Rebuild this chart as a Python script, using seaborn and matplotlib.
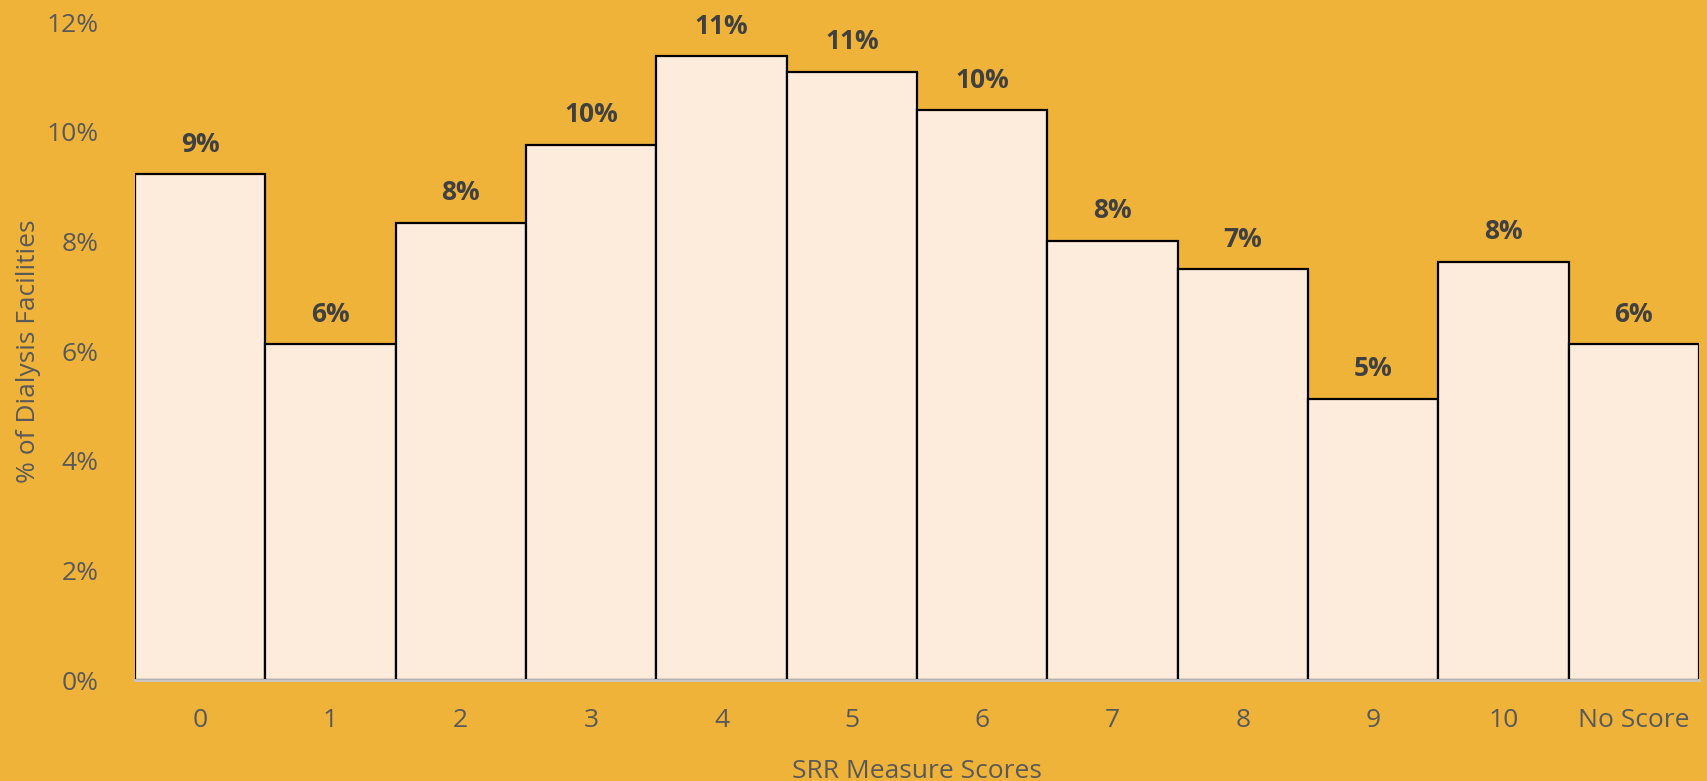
import matplotlib
matplotlib.use("Agg")
import matplotlib.pyplot as plt
from matplotlib.ticker import FuncFormatter
import seaborn as sns
import pandas as pd

scores = ["0", "1", "2", "3", "4", "5", "6", "7", "8", "9", "10", "No Score"]
pct_facilities = [9.22, 6.12, 8.34, 9.76, 11.38, 11.09, 10.39, 8.01, 7.49, 5.13, 7.63, 6.12]
y_ticks = [0, 2, 4, 6, 8, 10, 12]

bg = "#F0B33A"
bar_fill = "#FDEBDC"
tick_grey = "#595959"
label_dark = "#404040"

sns.set_theme(style="white")
plt.rcParams["font.family"] = ["Open Sans", "DejaVu Sans"]

df = pd.DataFrame({"score": scores, "pct": pct_facilities})

fig = plt.figure(figsize=(17.08, 7.81), dpi=100, facecolor=bg)
ax = fig.add_axes([0.079, 0.1293, 0.9157, 0.8425])
ax.set_facecolor(bg)

sns.barplot(data=df, x="score", y="pct", order=scores, color=bar_fill,
            width=1.0, edgecolor="black", linewidth=1.6, saturation=1, ax=ax)

ax.set_ylim(0, 12)
ax.set_xlim(-0.5, len(scores) - 0.5)
ax.set_yticks(y_ticks)
ax.yaxis.set_major_formatter(FuncFormatter(lambda v, _: f"{v:.0f}%"))

for i, v in enumerate(pct_facilities):
    ax.text(i, v + 0.3, f"{v:.0f}%", ha="center", va="bottom",
            fontsize=19, fontweight="bold", color=label_dark)

for s in ["top", "right", "left"]:
    ax.spines[s].set_visible(False)
ax.spines["bottom"].set_color("#C8C8C8")
ax.spines["bottom"].set_linewidth(2)

ax.tick_params(axis="both", length=0, labelsize=19, labelcolor=tick_grey)
ax.tick_params(axis="x", pad=20)
ax.tick_params(axis="y", pad=26)

ax.set_xlabel("SRR Measure Scores", fontsize=19, color=tick_grey, labelpad=19)
ax.set_ylabel("% of Dialysis Facilities", fontsize=19, color=tick_grey, labelpad=4)

fig.savefig("out.png", dpi=100, facecolor=bg)
